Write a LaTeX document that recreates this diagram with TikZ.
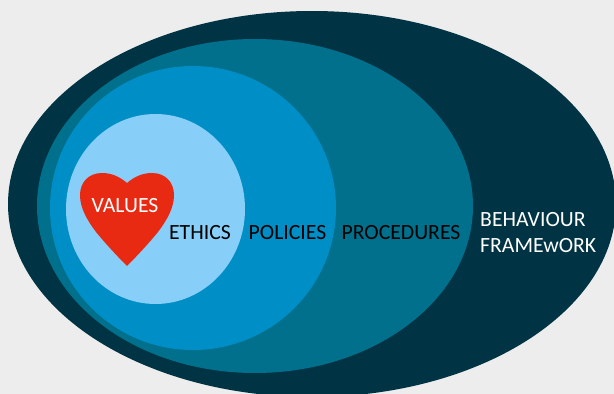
\documentclass[tikz,border=0pt]{standalone}
\usepackage{fontspec}
\setmainfont{Carlito}
\usetikzlibrary{shapes.geometric}
\definecolor{pagegrey}{HTML}{EDEDED}
\definecolor{framecol}{HTML}{003343}
\definecolor{proccol}{HTML}{00708C}
\definecolor{policol}{HTML}{008EC6}
\definecolor{ethicol}{HTML}{87CEF8}
\definecolor{heartcol}{HTML}{E92A13}
\tikzset{
  ring/.style={ellipse,inner sep=0pt,outer sep=0pt},
  lab/.style={font=\fontsize{21.7}{22}\selectfont,text=black,inner sep=0pt},
  wlab/.style={lab,text=white}
}
\begin{document}
\begin{tikzpicture}[x=1pt,y=-1pt]
\useasboundingbox (0,0) rectangle (614,394);
\clip (0,0) rectangle (614,394);
\fill[pagegrey] (0,0) rectangle (614,394);

\node at (312,204) (FRAME) [ring,fill=framecol,minimum width=608pt,minimum height=386pt] {};
\node at (255,206) (PROC) [ring,fill=proccol,minimum width=436pt,minimum height=334pt] {};
\node at (193,208) (POLI) [ring,fill=policol,minimum width=286pt,minimum height=284pt] {};
\node at (155.5,209) (ETHI) [ring,fill=ethicol,minimum width=179pt,minimum height=190pt] {};

% heart
\fill[heartcol] (127,183) .. controls (120,177) and (112,173) .. (102,173)
  .. controls (88,173) and (80,183) .. (80,195)
  .. controls (80,208) and (87,220) .. (96,232)
  .. controls (105,243) and (117,256) .. (127,266)
  .. controls (137,256) and (149,243) .. (158,232)
  .. controls (167,220) and (174,208) .. (174,195)
  .. controls (174,183) and (166,173) .. (152,173)
  .. controls (142,173) and (134,177) .. (127,183) -- cycle;

\node at (125,205.5) (VALUES) [wlab] {VALUES};
\node at (200,232.5) (ETHICS) [lab] {ETHICS};
\node at (287.5,232.5) (POLICIES) [lab] {POLICIES};
\node at (401,232.5) (PROCEDURES) [lab] {PROCEDURES};
\node at (480,219.5) (BEHAV) [wlab,anchor=west] {BEHAVIOUR};
\node at (480,245.5) (FRAMEW) [wlab,anchor=west] {FRAMEwORK};
\end{tikzpicture}
\end{document}
